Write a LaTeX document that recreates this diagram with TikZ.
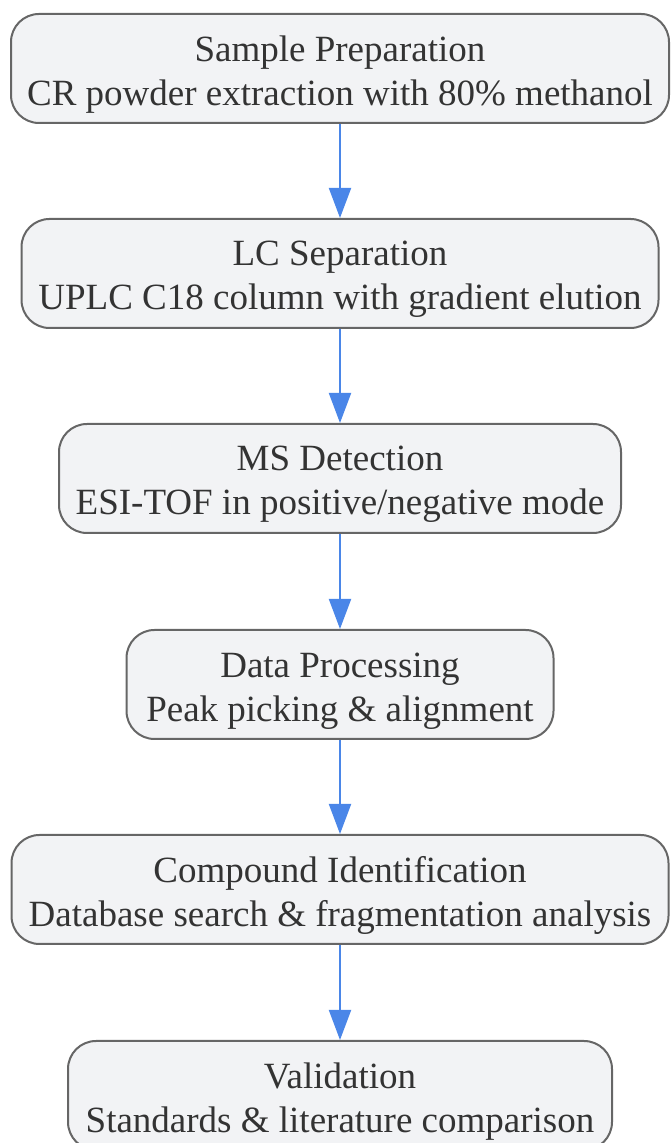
\documentclass[tikz,border=0pt]{standalone}
\usepackage{fontspec}
\setmainfont{Liberation Serif}
\usetikzlibrary{arrows.meta}
\definecolor{boxfill}{HTML}{F2F3F5}
\definecolor{boxline}{HTML}{666666}
\definecolor{txt}{HTML}{333333}
\definecolor{arr}{HTML}{4A86E8}
\newcommand{\topfix}{\rule{0pt}{37pt}}
\begin{document}
\begin{tikzpicture}[x=1pt,y=1pt,
  stepbox/.style={draw=boxline,fill=boxfill,line width=2pt,rounded corners=28pt,
    minimum height=109pt,inner sep=0pt,align=center,text=txt,
    font=\fontsize{37}{44}\selectfont},
  flow/.style={draw=arr,line width=2pt,-{Triangle[width=22pt,length=30pt]}}]
\useasboundingbox (0,0) rectangle (670,1143);
\node[stepbox,minimum width=658pt] (a) at (340,1074.5) {\topfix Sample Preparation\\CR powder extraction with 80\% methanol};
\node[stepbox,minimum width=637pt] (b) at (340,869.5) {\topfix LC Separation\\UPLC C18 column with gradient elution};
\node[stepbox,minimum width=562pt] (c) at (340,664.5) {\topfix MS Detection\\ESI-TOF in positive/negative mode};
\node[stepbox,minimum width=427pt] (d) at (340,458.5) {\topfix Data Processing\\Peak picking \& alignment};
\node[stepbox,minimum width=657pt] (e) at (340,253.5) {\topfix Compound Identification\\Database search \& fragmentation analysis};
\node[stepbox,minimum width=544pt] (f) at (340,47.5) {\topfix Validation\\Standards \& literature comparison};
\draw[flow] (a.south) -- (b.north);
\draw[flow] (b.south) -- (c.north);
\draw[flow] (c.south) -- (d.north);
\draw[flow] (d.south) -- (e.north);
\draw[flow] (e.south) -- (f.north);
\end{tikzpicture}
\end{document}
